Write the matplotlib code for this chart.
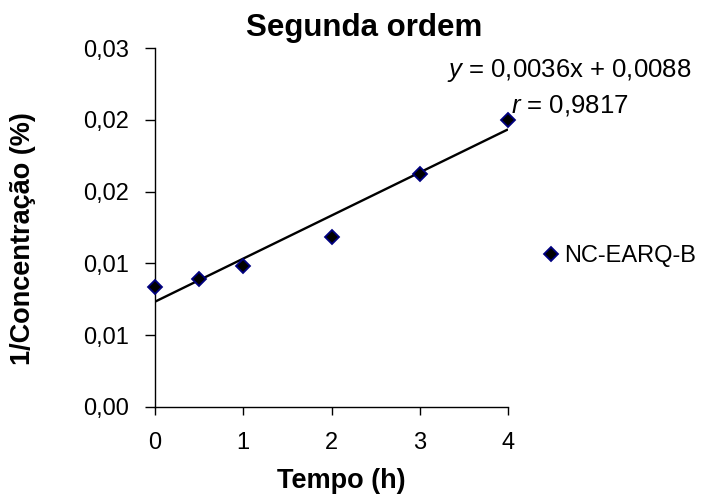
import matplotlib
matplotlib.use("Agg")
import matplotlib.pyplot as plt
from matplotlib.lines import Line2D

plt.rcParams["font.family"] = ["Liberation Sans", "DejaVu Sans"]
plt.rcParams["mathtext.fontset"] = "custom"
plt.rcParams["mathtext.rm"] = "Liberation Sans"
plt.rcParams["mathtext.it"] = "Liberation Sans:italic"

# dados
tempo = [0, 0.5, 1, 2, 3, 4]
inv_conc = [0.0100, 0.0107, 0.0118, 0.0142, 0.0195, 0.0240]
serie = "NC-EARQ-B"

# linha de tendência (regressão linear)
inclinacao = 0.0036
intercepto = 0.0088
r_corr = 0.9817
x_linha = [0, 4]

x_ticks = [0, 1, 2, 3, 4]
y_ticks = [0, 0.006, 0.012, 0.018, 0.024, 0.03]

W, H = 706, 498
fig = plt.figure(figsize=(W / 100, H / 100), dpi=100)
fig.patch.set_facecolor("white")
ax = fig.add_axes([155 / W, 1 - 407 / H, 353 / W, 359 / H])

def px(x, y):
    return x / W, 1 - y / H

ax.plot(x_linha, [intercepto + inclinacao * v for v in x_linha],
        color="black", lw=1.7, zorder=2, solid_capstyle="butt")
ax.plot(tempo, inv_conc, linestyle="none", marker="D", ms=7.5,
        mfc="black", mec="#000080", mew=1.3, zorder=3, clip_on=False)

ax.set_xlim(0, 4)
ax.set_ylim(0, 0.03)
ax.set_xticks(x_ticks)
ax.set_xticklabels([str(v) for v in x_ticks])
ax.set_yticks(y_ticks)
ax.set_yticklabels([f"{v:.2f}".replace(".", ",") for v in y_ticks])
ax.tick_params(axis="both", direction="out", length=6, width=1,
               labelsize=17, colors="black")
ax.tick_params(axis="y", pad=12, length=7)
ax.tick_params(axis="x", pad=12)
ax.spines[["top", "right"]].set_visible(False)
for s in ("left", "bottom"):
    ax.spines[s].set_linewidth(1)

fig.text(*px(364, 36), "Segunda ordem", fontsize=22.5, fontweight="bold",
         ha="center", va="baseline")
fig.text(*px(341, 488), "Tempo (h)", fontsize=19.5, fontweight="bold",
         ha="center", va="baseline")
fig.text(*px(23, 239), "1/Concentração (%)", fontsize=19.5, fontweight="bold",
         rotation=90, ha="center", va="center")

eq = f"$y$ = {inclinacao:.4f}x + {intercepto:.4f}".replace(".", ",")
rt = f"$r$ = {r_corr:.4f}".replace(".", ",")
fig.text(*px(569, 77.5), eq, fontsize=18.5, ha="center", va="baseline")
fig.text(*px(570, 112), rt, fontsize=18.5, ha="center", va="baseline")

handle = Line2D([], [], linestyle="none", marker="D", ms=7.5,
                mfc="black", mec="#000080", mew=1.3)
fig.legend([handle], [serie], loc="center left", bbox_to_anchor=px(544, 256),
           frameon=False, fontsize=17, handlelength=0.6, handletextpad=0.25,
           borderpad=0, borderaxespad=0)

fig.savefig("out.png", dpi=100)
